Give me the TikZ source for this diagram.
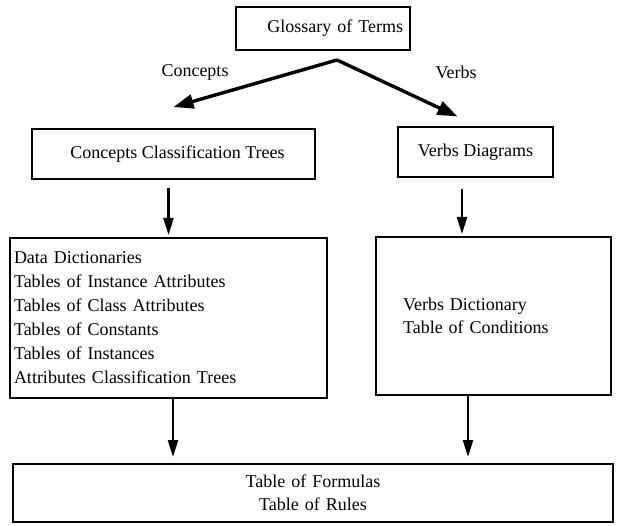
\documentclass[tikz,border=0pt]{standalone}
\usepackage{fontspec}
\setmainfont{Liberation Serif}
\usepackage{tikz}
\usetikzlibrary{arrows.meta,calc}
\tikzset{
  basic/.style   = {draw, rectangle, line width=2pt, inner sep=0pt,
                    font=\fontsize{18}{23}\selectfont},
  glossbox/.style = {basic, minimum width=174pt, minimum height=43pt},
  midbox/.style  = {basic, minimum height=50pt},
  listbox/.style = {basic, align=left},
  sumbox/.style  = {basic, align=center, text width=590pt, inner xsep=5pt,
                    minimum height=58pt},
  branch/.style  = {inner sep=0pt, font=\fontsize{18}{23}\selectfont},
  fatarrow/.style = {line width=3.4pt, -{Triangle[length=20pt,width=14pt]}},
  downarrow/.style = {line width=2.4pt, -{Triangle[length=17pt,width=10pt]}}
}

\begin{document}
\begin{tikzpicture}[x=1pt, y=-1pt]
  \useasboundingbox (0,0) rectangle (621,526);
  % top of the chart
  \node[glossbox, text width=160pt, align=right, inner xsep=7pt] (gt) at (323,28.5)
    {Glossary of Terms};
  \node[branch] (lc) at (195,72) {Concepts};
  \node[branch] (lv) at (456,72) {Verbs};
  % second row
  \node[midbox, minimum width=283pt] (cct) at (173.5,154)
    {\hspace{8pt}Concepts Classification Trees};
  \node[midbox, minimum width=155pt] (vd) at (475.5,152.5) {Verbs Diagrams};
  % third row, lists of tables
  \node[listbox, text width=309pt, inner xsep=4pt, minimum height=160pt,
    font=\fontsize{18}{24}\selectfont] (dd) at (168.5,318)
    {Data Dictionaries\\ Tables of Instance Attributes\\
     Tables of Class Attributes\\ Tables of Constants\\
     Tables of Instances\\ Attributes Classification Trees};
  \node[listbox, text width=181pt, inner xsep=27pt, minimum height=158pt]
    (vdict) at (493.5,316) {Verbs Dictionary\\ Table of Conditions};
  % last row
  \node[sumbox] (tf) at (313,493) {Table of Formulas\\ Table of Rules};
  % the two branches
  \coordinate (apex) at ($(gt.south)+(14,9)$);
  \draw[fatarrow] (apex) -- ($(cct.north)+(0,-21)$);
  \draw[fatarrow] (apex) -- ($(vd.north)+(-18,-10)$);
  % arrows down to the lists
  \coordinate (vdin) at ($(vdict.north)+(-31.5,0)$);
  \draw[downarrow, shorten <=8pt, shorten >=2pt] (cct.south -| dd.north) -- (dd.north);
  \draw[downarrow, shorten <=11pt, shorten >=2pt] (vdin |- vd.south) -- (vdin);
  % arrows down to the formulas
  \coordinate (ddout) at ($(dd.south)+(4.5,0)$);
  \coordinate (vdout) at ($(vdict.south)+(-25.5,0)$);
  \foreach \src in {ddout,vdout}
  \draw[downarrow, shorten >=6pt] (\src) -- (\src |- tf.north);
\end{tikzpicture}
\end{document}
